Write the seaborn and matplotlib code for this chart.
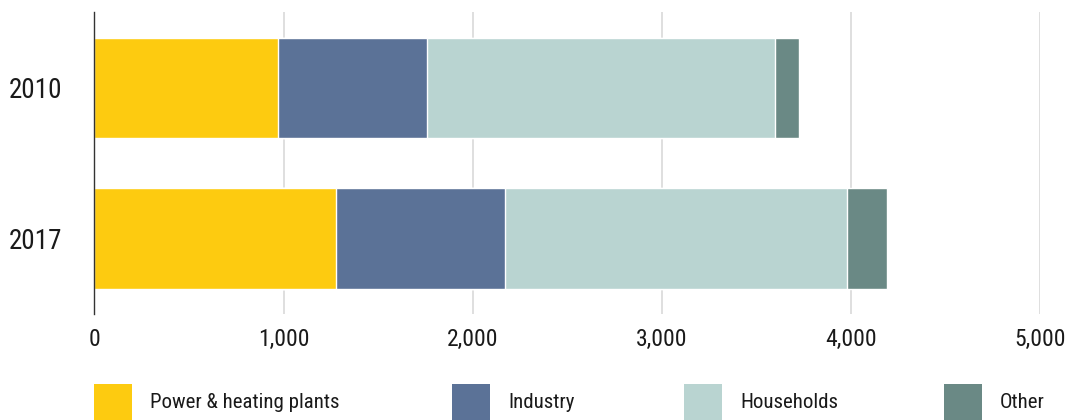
import numpy as np
import pandas as pd
import matplotlib
matplotlib.use("Agg")
import matplotlib.pyplot as plt
from matplotlib.patches import Rectangle
from matplotlib import font_manager
import seaborn as sns

# Fuel consumption by sector
years = ["2010", "2017"]
sectors = ["Power & heating plants", "Industry", "Households", "Other"]
power = [971, 1279]
industry = [785, 892]
households = [1842, 1808]
other = [126, 213]
colors = ["#FDCB10", "#5B7297", "#B9D4D1", "#6A8985"]
x_ticks = [0, 1000, 2000, 3000, 4000, 5000]

sns.set_theme(style="white")

# prefer a narrow sans face when one is installed
installed = {f.name for f in font_manager.fontManager.ttflist}
candidates = ["Roboto Condensed", "Open Sans Condensed", "Liberation Sans Narrow",
              "Noto Sans Condensed", "Roboto", "Lato"]
font = [f for f in candidates if f in installed][:1] + ["DejaVu Sans"]
plt.rcParams["font.family"] = font

df = pd.DataFrame({
    "year": years,
    sectors[0]: power,
    sectors[1]: industry,
    sectors[2]: households,
    sectors[3]: other,
})
# cumulative totals so each sector can be layered as a stacked bar
cum = df[sectors].cumsum(axis=1)
cum["year"] = df["year"]

fig = plt.figure(figsize=(10.7, 4.2), dpi=100)
ax = fig.add_axes([94.4 / 1070, 1 - 314 / 420, (1040.3 - 94.4) / 1070, (314 - 12.4) / 420])

for sector, color in reversed(list(zip(sectors, colors))):
    sns.barplot(data=cum, x=sector, y="year", order=years, orient="h",
                color=color, width=0.665, saturation=1, ax=ax, zorder=2)

ax.set_xlim(0, 5000)
ax.set_ylim(1.5, -0.5)
ax.set_xticks(x_ticks)
ax.set_xticklabels([f"{v:,}" for v in x_ticks], fontsize=17, color="#1a1a1a")
ax.set_yticks(range(len(years)))
ax.set_yticklabels(years, fontsize=19.5, color="#1a1a1a")
ax.tick_params(axis="x", length=0, pad=10)
ax.tick_params(axis="y", length=0, pad=23.5)
ax.set_xlabel("")
ax.set_ylabel("")

for v in x_ticks[1:]:
    ax.axvline(v, color="#d9d9d9", lw=1.2, zorder=0)

for s in ["top", "right", "bottom"]:
    ax.spines[s].set_visible(False)
ax.spines["left"].set_color("#333333")
ax.spines["left"].set_linewidth(1.0)
ax.spines["left"].set_zorder(3)

# legend row along the bottom edge
sq_x = [94, 452, 684, 944]
for sector, color, x0 in zip(sectors, colors, sq_x):
    fig.patches.append(Rectangle((x0 / 1070, 0), 38 / 1070, 36 / 420,
                                 transform=fig.transFigure, facecolor=color,
                                 edgecolor="none"))
    fig.text((x0 + 56) / 1070, 1 - 403 / 420, sector, fontsize=15,
             va="center", ha="left", color="#1a1a1a", family=font)

fig.savefig("out.png", dpi=100, facecolor="white")
